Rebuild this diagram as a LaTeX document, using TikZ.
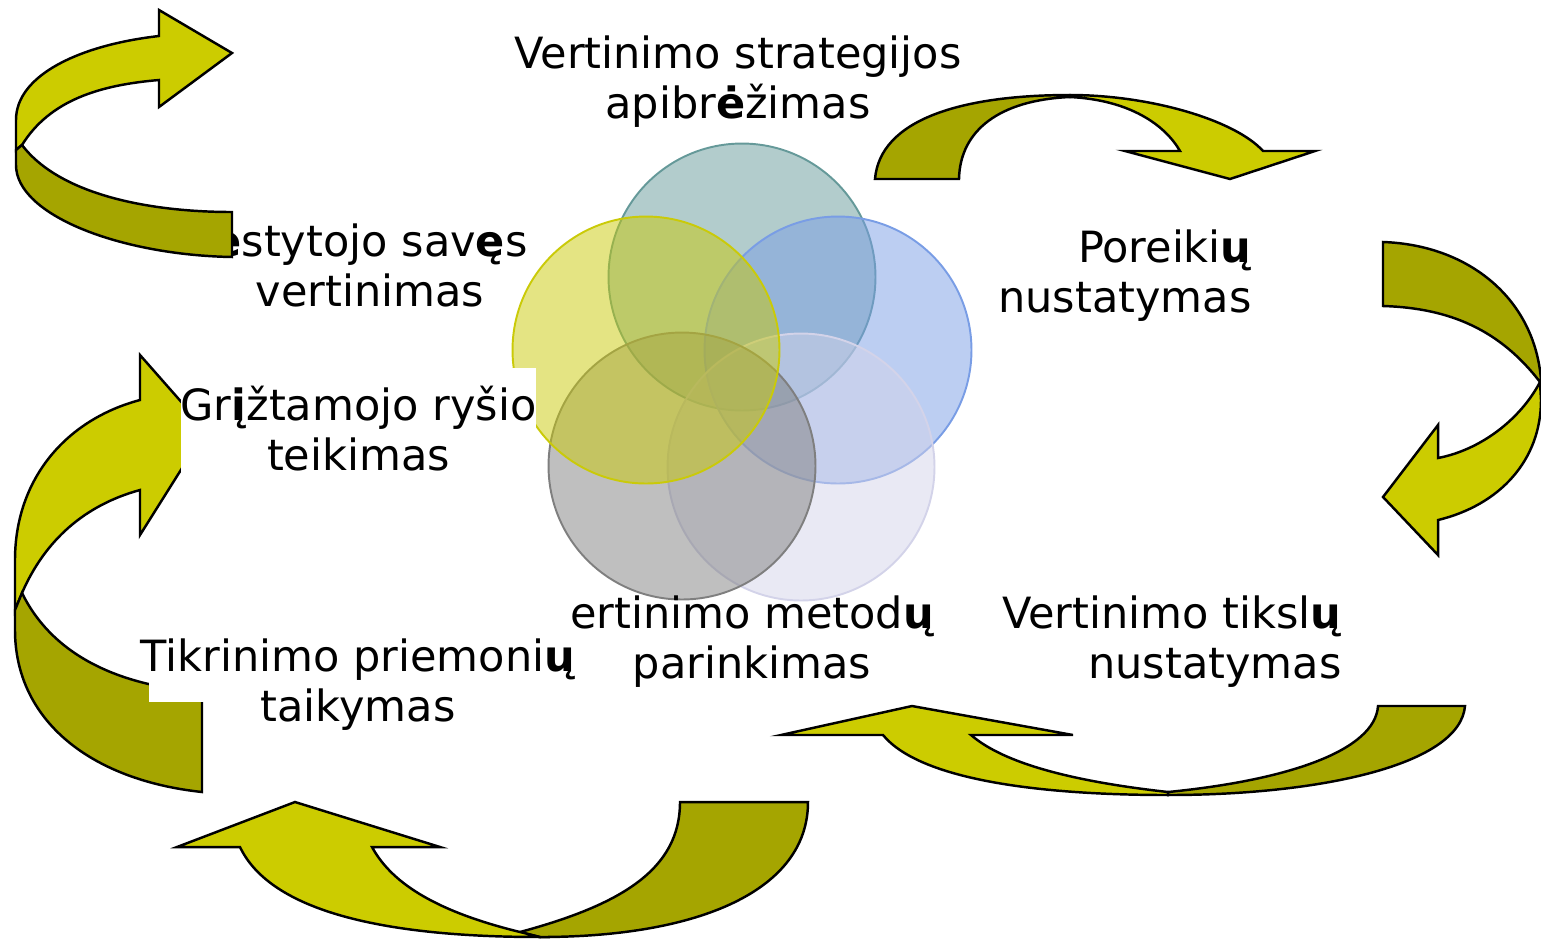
\documentclass[tikz,border=0pt]{standalone}
\usepackage{fontspec}
\setmainfont{DejaVu Sans}

\definecolor{ringTeal}{RGB}{101,153,153}
\definecolor{ringBlue}{RGB}{121,157,229}
\definecolor{ringLilac}{RGB}{211,211,233}
\definecolor{ringGray}{RGB}{127,127,127}
\definecolor{ringYellow}{RGB}{202,202,8}
\definecolor{arrowLight}{RGB}{204,204,0}
\definecolor{arrowDark}{RGB}{165,165,0}

\newcommand{\stagefont}{\fontsize{24.5}{28.45}\selectfont}

\begin{document}
\begin{tikzpicture}[
    x=0.02cm, y=-0.02cm,
    ring/.style={circle, minimum size=5.34cm, inner sep=0pt, line width=1.1pt, fill opacity=0.5},
    stage/.style={font=\stagefont, align=center, inner sep=0pt},
    headPart/.style={fill=arrowLight, draw=black, line width=1.4pt},
    tailPart/.style={fill=arrowDark, draw=black, line width=1.4pt}
  ]
    \useasboundingbox (0,0) rectangle (1541,938);

    % Apskritimai
    \node[ring, draw=ringTeal, fill=ringTeal] (tealRing) at (742,277) {};
    \node[ring, draw=ringBlue, fill=ringBlue] (blueRing) at (838,350) {};
    \node[ring, draw=ringLilac, fill=ringLilac] (lilacRing) at (801,467) {};
    \node[ring, draw=ringGray, fill=ringGray] (grayRing) at (682,466) {};
    \node[ring, draw=ringYellow, fill=ringYellow] (yellowRing) at (646,350) {};

    % Etapai
    \node[stage, anchor=base] (strategyText) at (738,118) {Vertinimo strategijos\\apibr\textbf{ė}žimas};
    \node[stage, align=right, anchor=base east] (needsText) at (1252,312) {Poreiki\textbf{ų}\\nustatymas};
    \node[stage, align=right, anchor=base east] (goalsText) at (1342,678) {Vertinimo tiksl\textbf{ų}\\nustatymas};
    \node[stage, anchor=base] (methodsText) at (752,678) {ertinimo metod\textbf{ų}\\parinkimas};
    \node[stage, anchor=base] (toolsText) at (358,721) {Tikrinimo priemoni\textbf{ų}\\taikymas};
    \node[stage, anchor=base] (selfText) at (370,306) {\textbf{ė}stytojo sav\textbf{ę}s\\vertinimas};

    % Rodykles
    \draw[headPart] (22,145) .. controls (50,100) and (100,85) .. (159,80) -- (159,107) -- (232,53) -- (159,10) -- (159,36) .. controls (80,45) and (16,75) .. (16,120) -- (16,150) -- cycle;
    \draw[tailPart] (22,145) .. controls (60,195) and (150,212) .. (232,212) -- (232,257) .. controls (120,255) and (16,215) .. (16,165) -- (16,150) -- cycle;

    \draw[tailPart] (875,179) .. controls (880,120) and (960,95) .. (1070,95) -- (1070,97) .. controls (1000,100) and (960,130) .. (959,179) -- cycle;
    \draw[headPart] (1070,97) .. controls (1130,100) and (1165,125) .. (1180,151) -- (1125,151) -- (1230,179) -- (1315,151) -- (1263,151) .. controls (1235,120) and (1150,95) .. (1070,95) -- cycle;

    \draw[tailPart] (1383,242) .. controls (1470,245) and (1535,300) .. (1541,380) -- (1540,382) .. controls (1500,330) and (1450,308) .. (1383,306) -- cycle;
    \draw[headPart] (1540,382) .. controls (1520,420) and (1480,450) .. (1438,458) -- (1438,425) -- (1383,497) -- (1438,555) -- (1438,520) .. controls (1500,505) and (1541,460) .. (1541,400) -- cycle;

    \draw[tailPart] (1168,792) .. controls (1290,780) and (1375,750) .. (1378,706) -- (1465,706) .. controls (1460,765) and (1320,795) .. (1168,795) -- cycle;
    \draw[headPart] (1168,792) .. controls (1060,780) and (1000,760) .. (971,735) -- (1073,735) -- (912,706) -- (781,735) -- (883,735) .. controls (920,780) and (1040,795) .. (1168,795) -- cycle;

    \draw[tailPart] (520,932) .. controls (620,905) and (680,870) .. (680,802) -- (808,802) .. controls (808,890) and (700,937) .. (540,937) -- cycle;
    \draw[headPart] (520,932) .. controls (430,910) and (390,880) .. (372,847) -- (440,847) -- (295,802) -- (177,847) -- (240,847) .. controls (270,910) and (380,937) .. (540,937) -- cycle;

    \draw[headPart] (22,593) .. controls (45,540) and (85,505) .. (140,490) -- (140,535) -- (206,430) -- (140,355) -- (140,400) .. controls (65,420) and (15,480) .. (15,560) -- (15,610) -- cycle;
    \draw[tailPart] (22,593) .. controls (50,650) and (110,685) .. (202,692) -- (202,792) .. controls (90,780) and (15,720) .. (15,630) -- (15,610) -- cycle;

    % Balti laukai
    \fill[white] (149,680) rectangle (204,702);
    \node[stage, fill=white, minimum width=7.1cm, minimum height=2.44cm] (feedbackText) at (358.5,429) {Gr\textbf{į}žtamojo ryšio\\teikimas};
\end{tikzpicture}
\end{document}
